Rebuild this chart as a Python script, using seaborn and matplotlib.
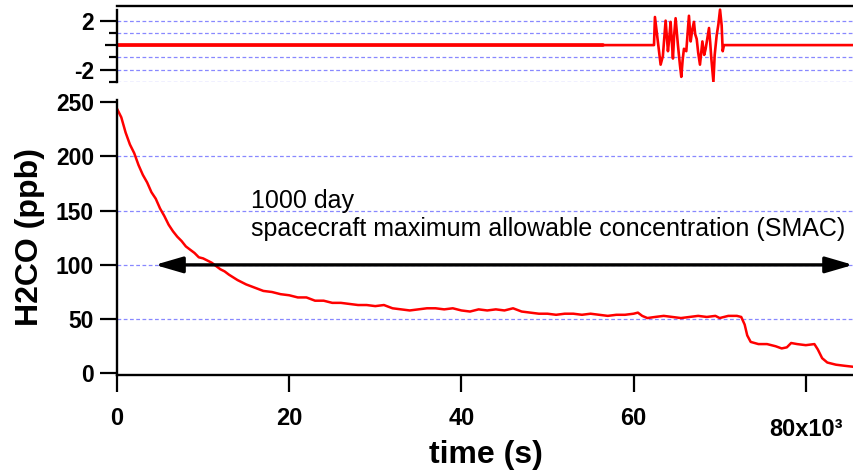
import matplotlib
matplotlib.use("Agg")
import matplotlib.pyplot as plt
import matplotlib.transforms as mtransforms
import pandas as pd
import seaborn as sns

# H2CO decay, time in 10^3 s
time_ks = [0.0, 0.5, 1.0, 1.5, 2.0, 2.5, 3.0, 3.5, 4.0, 4.5, 5.0, 5.5, 6.0, 6.5,
           7.0, 7.5, 8.0, 8.5, 9.0, 9.5, 10.0, 10.5, 11.0, 11.5, 12.0, 12.5, 13.0,
           14.0, 15.0, 16.0, 17.0, 18.0, 19.0, 20.0, 21.0, 22.0, 23.0, 24.0, 25.0,
           26.0, 27.0, 28.0, 29.0, 30.0, 31.0, 32.0, 33.0, 34.0, 35.0, 36.0, 37.0,
           38.0, 39.0, 40.0, 41.0, 42.0, 43.0, 44.0, 45.0, 46.0, 47.0, 48.0, 49.0,
           50.0, 51.0, 52.0, 53.0, 54.0, 55.0, 56.0, 57.0, 58.0, 59.0, 60.0, 60.5,
           61.0, 61.6, 62.5, 63.5, 64.5, 65.5, 66.5, 67.5, 68.5, 69.5, 70.0, 71.0,
           72.0, 72.5, 72.9, 73.2, 73.6, 74.5, 75.5, 76.5, 77.2, 77.8, 78.3, 79.0,
           80.0, 81.0, 81.4, 81.9, 82.5, 83.5, 84.5, 85.6]
h2co_ppb = [244, 236, 222, 211, 203, 192, 183, 176, 167, 161, 152, 145, 137, 131,
            126, 122, 117, 114, 111, 107, 106, 104, 102, 99, 96, 94, 91,
            86, 82, 79, 76, 75, 73, 72, 70, 70, 67, 67, 65,
            65, 64, 63, 63, 62, 63, 60, 59, 58, 59, 60, 60,
            59, 60, 58, 57, 59, 58, 59, 58, 60, 57, 56, 55,
            55, 54, 55, 55, 54, 55, 54, 53, 54, 54, 55, 56,
            53, 51, 52, 53, 52, 51, 52, 53, 52, 53, 51, 53,
            53, 52, 45, 35, 29, 27, 27, 25, 23, 24, 28, 27,
            26, 27, 22, 14, 10, 8, 7, 6]

# residuals (top panel)
res_t = [0.0, 62.37, 62.48, 62.8, 63.14, 63.4, 63.72, 63.99, 64.15, 64.30, 64.45,
         64.57, 64.72, 64.88, 65.15, 65.38, 65.54, 65.7, 65.85, 66.12, 66.43, 66.63,
         66.8, 67.01, 67.15, 67.33, 67.5, 67.71, 67.99, 68.2, 68.37, 68.76, 68.9,
         69.03, 69.27, 69.42, 69.65, 69.85, 70.04, 70.23, 70.35, 70.50, 85.6]
res_v = [0.0, 0.0, 2.3, 0.4, -1.6, -0.9, 2.0, -0.5, 0.6, 1.9, 0.2,
         -1.1, 0.9, 2.2, 0.0, -1.6, -2.6, -1.2, -0.3, -0.5, 2.4, 0.3,
         1.2, 1.9, 0.9, 0.5, -0.6, -1.6, 0.3, -0.8, -0.3, 1.4, 0.2,
         -1.1, -3.0, -0.8, 0.8, 1.7, 2.9, 1.6, -0.5, 0.0, 0.0]
fit_zero_t = [0.0, 56.5]
fit_zero_v = [0.0, 0.0]

smac_ppb = 100
arrow_start, arrow_end = 4.4, 85.5

x_ticks = [0, 20, 40, 60, 80]
x_tick_labels = ["0", "20", "40", "60", "80x10\u00b3"]
y_ticks = [0, 50, 100, 150, 200, 250]
y_grid = [50, 100, 150, 200]
res_grid = [2, 1, -1, -2, -3]

sns.set_theme(style="ticks")
plt.rcParams["font.family"] = ["Liberation Sans", "DejaVu Sans"]
for key in ["text.color", "axes.labelcolor", "xtick.color", "ytick.color"]:
    plt.rcParams[key] = "black"

grid_color = "#8888ff"
red = "#ff0000"
narrow = ["Liberation Sans Narrow", "Liberation Sans", "DejaVu Sans"]

fig = plt.figure(figsize=(8.54, 4.72), dpi=100)
ax_res = fig.add_axes([117 / 854, 1 - 82 / 472, 737 / 854, 76 / 472])
ax = fig.add_axes([117 / 854, 1 - 375 / 472, 737 / 854, 275 / 472])

# top residual panel
sns.lineplot(x=fit_zero_t, y=fit_zero_v, ax=ax_res, color=red, lw=2.6)
sns.lineplot(x=res_t, y=res_v, ax=ax_res, color=red, lw=1.9)
ax_res.set_xlim(0, 85.6)
ax_res.set_ylim(-3.02, 3.2)
ax_res.set_yticks([2, 0, -2])
ax_res.set_yticklabels(["2", "", "-2"], fontsize=16.5, fontweight="bold")
ax_res.set_yticks([1, -1, -3], minor=True)
ax_res.tick_params(axis="y", which="major", length=12, width=1.6, pad=4.5, color="black")
ax_res.tick_params(axis="y", which="minor", left=True, length=5.5, width=1.6, color="black")
ax_res.yaxis.get_major_ticks()[1].tick1line.set_markersize(8.5)
ax_res.set_xticks([])
for y in res_grid:
    ax_res.axhline(y, color=grid_color, lw=0.9, ls=(0, (3, 2)), zorder=0)
ax_res.spines["bottom"].set_visible(False)
ax_res.spines["right"].set_visible(False)
ax_res.spines["left"].set_bounds(-3.02, 2.85)
for s in ["top", "left"]:
    ax_res.spines[s].set_linewidth(1.7)
    ax_res.spines[s].set_color("black")
ax_res.set_xlabel("")
ax_res.set_ylabel("")

# main panel
df = pd.DataFrame({"time": time_ks, "H2CO": h2co_ppb})
sns.lineplot(data=df, x="time", y="H2CO", ax=ax, color=red, lw=1.8)
for y in y_grid:
    ax.axhline(y, color=grid_color, lw=0.9, ls=(0, (3, 2)), zorder=0)
ax.set_xlim(0, 85.6)
ax.set_ylim(-1.5, 252)
ax.set_xticks(x_ticks)
ax.set_xticklabels(x_tick_labels, fontsize=17, fontweight="bold", family=narrow)
ax.set_yticks(y_ticks)
ax.set_yticklabels([str(v) for v in y_ticks], fontsize=16.5, fontweight="bold")
ax.tick_params(axis="both", length=12, width=1.6, color="black")
ax.tick_params(axis="x", pad=11)
ax.tick_params(axis="y", pad=4.5)
# the last label (with the exponent) sits a little lower
last = ax.get_xticklabels()[-1]
last.set_transform(last.get_transform() +
                   mtransforms.ScaledTranslation(0, -8 / 72, fig.dpi_scale_trans))
sns.despine(ax=ax)
for s in ["bottom", "left"]:
    ax.spines[s].set_linewidth(1.7)
    ax.spines[s].set_color("black")
ax.set_xlabel("time (s)", fontsize=23, fontweight="bold")
ax.xaxis.set_label_coords(0.5, -0.235)
ax.set_ylabel("H2CO (ppb)", fontsize=23, fontweight="bold", labelpad=8)

ax.annotate("", xy=(arrow_end, smac_ppb), xytext=(arrow_start, smac_ppb),
            arrowprops=dict(arrowstyle="<|-|>,head_length=1.2,head_width=0.35",
                            mutation_scale=14, lw=2.4, color="black",
                            shrinkA=0, shrinkB=0),
            annotation_clip=False)
ax.text(15.6, 152.7, "1000 day", fontsize=18, va="baseline")
ax.text(15.6, 127, "spacecraft maximum allowable concentration (SMAC)",
        fontsize=18, va="baseline")

fig.savefig("out.png", dpi=100)
